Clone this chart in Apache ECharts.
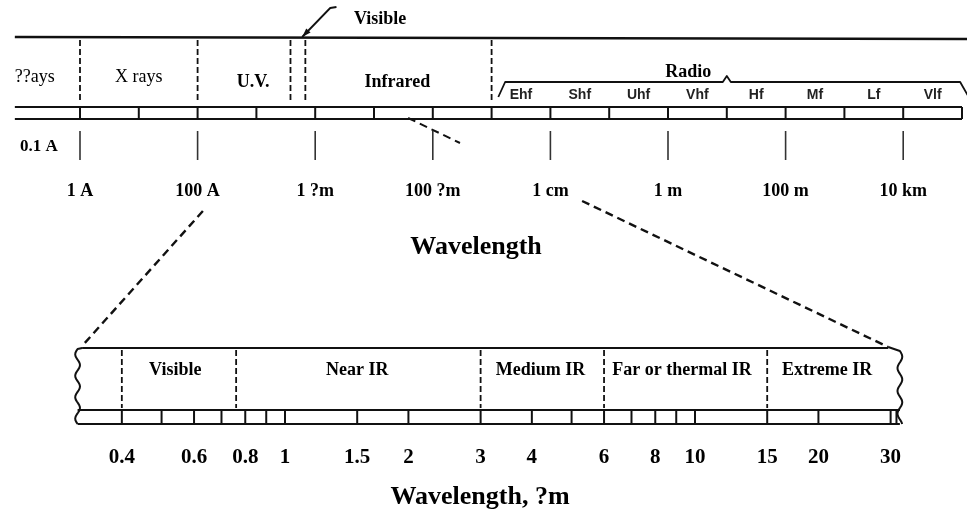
<!DOCTYPE html>
<html><head><meta charset="utf-8">
<script src="https://cdn.jsdelivr.net/npm/echarts@6/dist/echarts.min.js"></script>
<style>html,body{margin:0;padding:0;background:#fff}#c{width:967px;height:515px}</style>
</head><body><div id="c"></div>
<script>
// ---------- DATA : upper scale (wavelength in metres) ----------
const topBandStart = 7.8e-12;
const topBandEnd = 1e5;
const topLineEnd = 2e5;
const topCellEdges = [1e-10, 1e-9, 1e-8, 1e-7, 1e-6, 1e-5, 1e-4, 1e-3, 1e-2, 1e-1, 1, 10, 100, 1e3, 1e4, 1e5];
const topMajorTicks = [1e-10, 1e-8, 1e-6, 1e-4, 1e-2, 1, 100, 1e4];
const topMajorLabels = ['1 A', '100 A', '1 ?m', '100 ?m', '1 cm', '1 m', '100 m', '10 km'];
const topMinorLabelAt = 2e-11;
const topMinorLabel = '0.1 A';
const topRegionBounds = [1e-10, 1e-8, 3.8e-7, 6.8e-7, 1e-3];
const topRegionNames = ['??ays', 'X rays', 'U.V.', 'Infrared'];
const topRegionLabelAt = [1.7e-11, 1e-9, 8.8e-8, 2.5e-5];
const radioBandNames = ['Ehf', 'Shf', 'Uhf', 'Vhf', 'Hf', 'Mf', 'Lf', 'Vlf'];
const radioBandEdges = [1e-3, 1e-2, 1e-1, 1, 10, 100, 1e3, 1e4, 1e5];
const radioBrace = [1.3e-3, 1.7e-3, 10, 9.3e4, 1.3e5];   // foot, corner, peak, corner, foot
const radioLabel = 'Radio';
const radioLabelAt = 2.2;
const visibleArrow = [2.3e-6, 1.8e-6, 6e-7];               // tail, bend, head
const visibleLabel = 'Visible';
const visibleLabelAt = 1.27e-5;
const strayDash = [3.8e-5, 2.9e-4];
// ---------- DATA : lower scale (wavelength in µm) ----------
const lowBandStart = 0.312;
const lowBandEnd = 31.6;
const lowBoxStart = 0.32;
const lowBoxEnd = 29.6;
const lowCellEdges = [0.4, 0.5, 0.6, 0.7, 0.8, 0.9, 1, 1.5, 2, 3, 4, 5, 6, 7, 8, 9, 10, 15, 20, 30, 31];
const lowTickValues = [0.4, 0.6, 0.8, 1, 1.5, 2, 3, 4, 6, 8, 10, 15, 20, 30];
const lowTickLabels = ['0.4', '0.6', '0.8', '1', '1.5', '2', '3', '4', '6', '8', '10', '15', '20', '30'];
const lowRegionBounds = [0.4, 0.76, 3, 6, 15];
const lowRegionNames = ['Visible', 'Near IR', 'Medium IR', 'Far or thermal IR', 'Extreme IR'];
const lowRegionLabelAt = [0.54, 1.5, 4.2, 9.3, 21];
// zoom connectors: [upper wavelength (m), lower wavelength (µm)]
const connectors = [[1.23e-8, 0.32], [0.0346, 29.6]];
const titleTop = 'Wavelength';
const titleLow = 'Wavelength, ?m';

// ---------- layout / style ----------
const lg = Math.log10;
const SERIF = '"Liberation Serif", "Times New Roman", serif';
const SANS = '"Liberation Sans", Arial, sans-serif';
const INK = '#111';
const Y = {
  topLineL: 37, topLineR: 39, sepTop: 40, sepBot: 102, regionY: [77, 77, 82, 82],
  radioLabel: 72, braceTop: 82, bracePeak: 76, braceFoot: 97, radioSub: 95,
  bandTop: 107, bandBot: 119, longTop: 131, longBot: 160, tickLabel: 191, minorLabel: 147,
  visLabel: 19, arrowTail: 7, arrowBend: 8, arrowHead: 37, strayDash: [118, 143],
  connTop: [211, 201], connBot: [346, 347], title: 247,
  boxTop: 348, lsepTop: 350, lsepBot: 408, lregion: 370, lbandTop: 410, lbandBot: 424,
  ltick: 458, ltitle: 497
};

function ln(x1, y1, x2, y2, w, dash, color) {
  return { type: 'line', silent: true, shape: { x1: x1, y1: y1, x2: x2, y2: y2 },
    style: { stroke: color || INK, lineWidth: w, lineDash: dash || null, lineCap: 'butt' } };
}
function pl(points, w, dash) {
  return { type: 'polyline', silent: true, shape: { points: points },
    style: { stroke: INK, lineWidth: w, fill: null, lineDash: dash || null, lineJoin: 'round' } };
}
function tx(x, y, text, font, color, align) {
  return { type: 'text', silent: true, x: x, y: y,
    style: { text: text, font: font, fill: color || '#000', align: align || 'center', verticalAlign: 'middle',
      textAlign: align || 'center', textVerticalAlign: 'middle' } };
}

function renderTop(params, api) {
  const X = v => api.coord([lg(v), 0])[0];
  const c = [];
  // top border line
  c.push(ln(X(topBandStart), Y.topLineL, X(topLineEnd), Y.topLineR, 2.4));
  // band
  c.push(ln(X(topBandStart), Y.bandTop, X(topBandEnd), Y.bandTop, 2.2));
  c.push(ln(X(topBandStart), Y.bandBot, X(topBandEnd), Y.bandBot, 2.2));
  topCellEdges.forEach(v => c.push(ln(X(v), Y.bandTop, X(v), Y.bandBot, 2)));
  // long ticks + labels
  topMajorTicks.forEach((v, i) => {
    c.push(ln(X(v), Y.longTop, X(v), Y.longBot, 1.6, null, '#333'));
    c.push(tx(X(v), Y.tickLabel, topMajorLabels[i], 'bold 18px ' + SERIF));
  });
  c.push(tx(X(topMinorLabelAt), Y.minorLabel, topMinorLabel, 'bold 17px ' + SERIF));
  // region separators
  topRegionBounds.forEach(v => c.push(ln(X(v), Y.sepTop, X(v), Y.sepBot, 1.8, [6, 3])));
  topRegionNames.forEach((n, i) => {
    const bold = (n === 'U.V.' || n === 'Infrared');
    c.push(tx(X(topRegionLabelAt[i]), Y.regionY[i], n, (bold ? 'bold 18px ' : '18px ') + SERIF));
  });
  // radio sub bands
  radioBandNames.forEach((n, i) => {
    const xc = X(Math.sqrt(radioBandEdges[i] * radioBandEdges[i + 1]));
    c.push(tx(xc, Y.radioSub, n, 'bold 14px ' + SANS, '#222'));
  });
  // brace
  const pk = X(radioBrace[2]);
  c.push(pl([[X(radioBrace[0]), Y.braceFoot], [X(radioBrace[1]), Y.braceTop], [pk - 4, Y.braceTop],
    [pk, Y.bracePeak], [pk + 4, Y.braceTop], [X(radioBrace[3]), Y.braceTop], [X(radioBrace[4]), Y.braceFoot]], 1.8));
  c.push(tx(X(radioLabelAt), Y.radioLabel, radioLabel, 'bold 18px ' + SERIF));
  // visible pointer
  const ax = X(visibleArrow[0]), bx = X(visibleArrow[1]), hx = X(visibleArrow[2]);
  c.push(pl([[ax, Y.arrowTail], [bx, Y.arrowBend], [hx, Y.arrowHead]], 1.8));
  const dx = hx - bx, dy = Y.arrowHead - Y.arrowBend, L = Math.hypot(dx, dy), ux = dx / L, uy = dy / L;
  const bxh = hx - ux * 9, byh = Y.arrowHead - uy * 9;
  c.push({ type: 'polygon', silent: true, shape: { points: [[hx, Y.arrowHead], [bxh - uy * 3, byh + ux * 3], [bxh + uy * 3, byh - ux * 3]] },
    style: { fill: INK } });
  c.push(tx(X(visibleLabelAt), Y.visLabel, visibleLabel, 'bold 18px ' + SERIF));
  // stray dashed stroke
  c.push(ln(X(strayDash[0]), Y.strayDash[0], X(strayDash[1]), Y.strayDash[1], 2, [8, 5]));
  return { type: 'group', children: c };
}

function renderLow(params, api) {
  const X = v => api.coord([lg(v), 0])[0];
  const c = [];
  const xl = X(lowBandStart), xr = X(lowBandEnd);
  // box top
  c.push(ln(X(lowBoxStart), Y.boxTop, X(lowBoxEnd), Y.boxTop, 2.2));
  // wavy edges
  const wave = (xc, y0, y1, amp, per, phase) => {
    const pts = [];
    for (let k = 0; k <= 40; k++) {
      const t = k / 40;
      pts.push([xc + amp * Math.sin(phase + t * per * 2 * Math.PI), y0 + t * (y1 - y0)]);
    }
    return pts;
  };
  const lw = wave(xl, Y.boxTop + 1, Y.lbandBot, 2.4, 3.5, Math.PI);
  lw.unshift([X(lowBoxStart), Y.boxTop]);
  c.push(pl(lw, 2));
  const rw = wave(xr, Y.boxTop + 3, Y.lbandBot, 2.4, 3.2, 0);
  rw.unshift([X(lowBoxEnd), Y.boxTop - 1]);
  c.push(pl(rw, 2));
  // band
  c.push(ln(xl, Y.lbandTop, xr, Y.lbandTop, 2.2));
  c.push(ln(xl, Y.lbandBot, xr, Y.lbandBot, 2.2));
  lowCellEdges.forEach(v => c.push(ln(X(v), Y.lbandTop, X(v), Y.lbandBot, 2)));
  // separators + region names
  lowRegionBounds.forEach(v => c.push(ln(X(v), Y.lsepTop, X(v), Y.lsepBot, 1.8, [6, 3])));
  lowRegionNames.forEach((n, i) => c.push(tx(X(lowRegionLabelAt[i]), Y.lregion, n, 'bold 18px ' + SERIF)));
  // tick labels
  lowTickValues.forEach((v, i) => c.push(tx(X(v), Y.ltick, lowTickLabels[i], 'bold 21px ' + SERIF)));
  return { type: 'group', children: c };
}

const chart = echarts.init(document.getElementById('c'), null, { renderer: 'canvas' });
chart.setOption({
  animation: false,
  backgroundColor: '#fff',
  grid: { left: 0, right: 0, top: 0, bottom: 0 },
  xAxis: [
    { type: 'value', position: 'top', min: -11.3605, max: 5.085, show: false },
    { type: 'value', position: 'bottom', min: -0.6951, max: 1.6634, show: false }
  ],
  yAxis: { type: 'value', min: 0, max: 515, inverse: true, show: false },
  series: [
    { type: 'custom', xAxisIndex: 0, clip: false, silent: true, data: [[lg(topBandStart), 0]], renderItem: renderTop },
    { type: 'custom', xAxisIndex: 1, clip: false, silent: true, data: [[lg(lowBandStart), 0]], renderItem: renderLow }
  ]
});

// connectors between the two scales, positioned through both axes
const conn = connectors.map((p, i) => {
  const x1 = chart.convertToPixel({ xAxisIndex: 0 }, lg(p[0]));
  const x2 = chart.convertToPixel({ xAxisIndex: 1 }, lg(p[1]));
  return { type: 'line', silent: true, shape: { x1: x1, y1: Y.connTop[i], x2: x2, y2: Y.connBot[i] },
    style: { stroke: INK, lineWidth: 2.4, lineDash: [8, 5] } };
});
const xt = chart.convertToPixel({ xAxisIndex: 0 }, -3.264);
chart.setOption({
  graphic: conn.concat([
    { type: 'text', silent: true, x: xt, y: Y.title, style: { text: titleTop, font: 'bold 26px ' + SERIF, fill: '#000', align: 'center', verticalAlign: 'middle', textAlign: 'center', textVerticalAlign: 'middle' } },
    { type: 'text', silent: true, x: 480, y: Y.ltitle, style: { text: titleLow, font: 'bold 26px ' + SERIF, fill: '#000', align: 'center', verticalAlign: 'middle', textAlign: 'center', textVerticalAlign: 'middle' } }
  ])
});
</script>
</body></html>
